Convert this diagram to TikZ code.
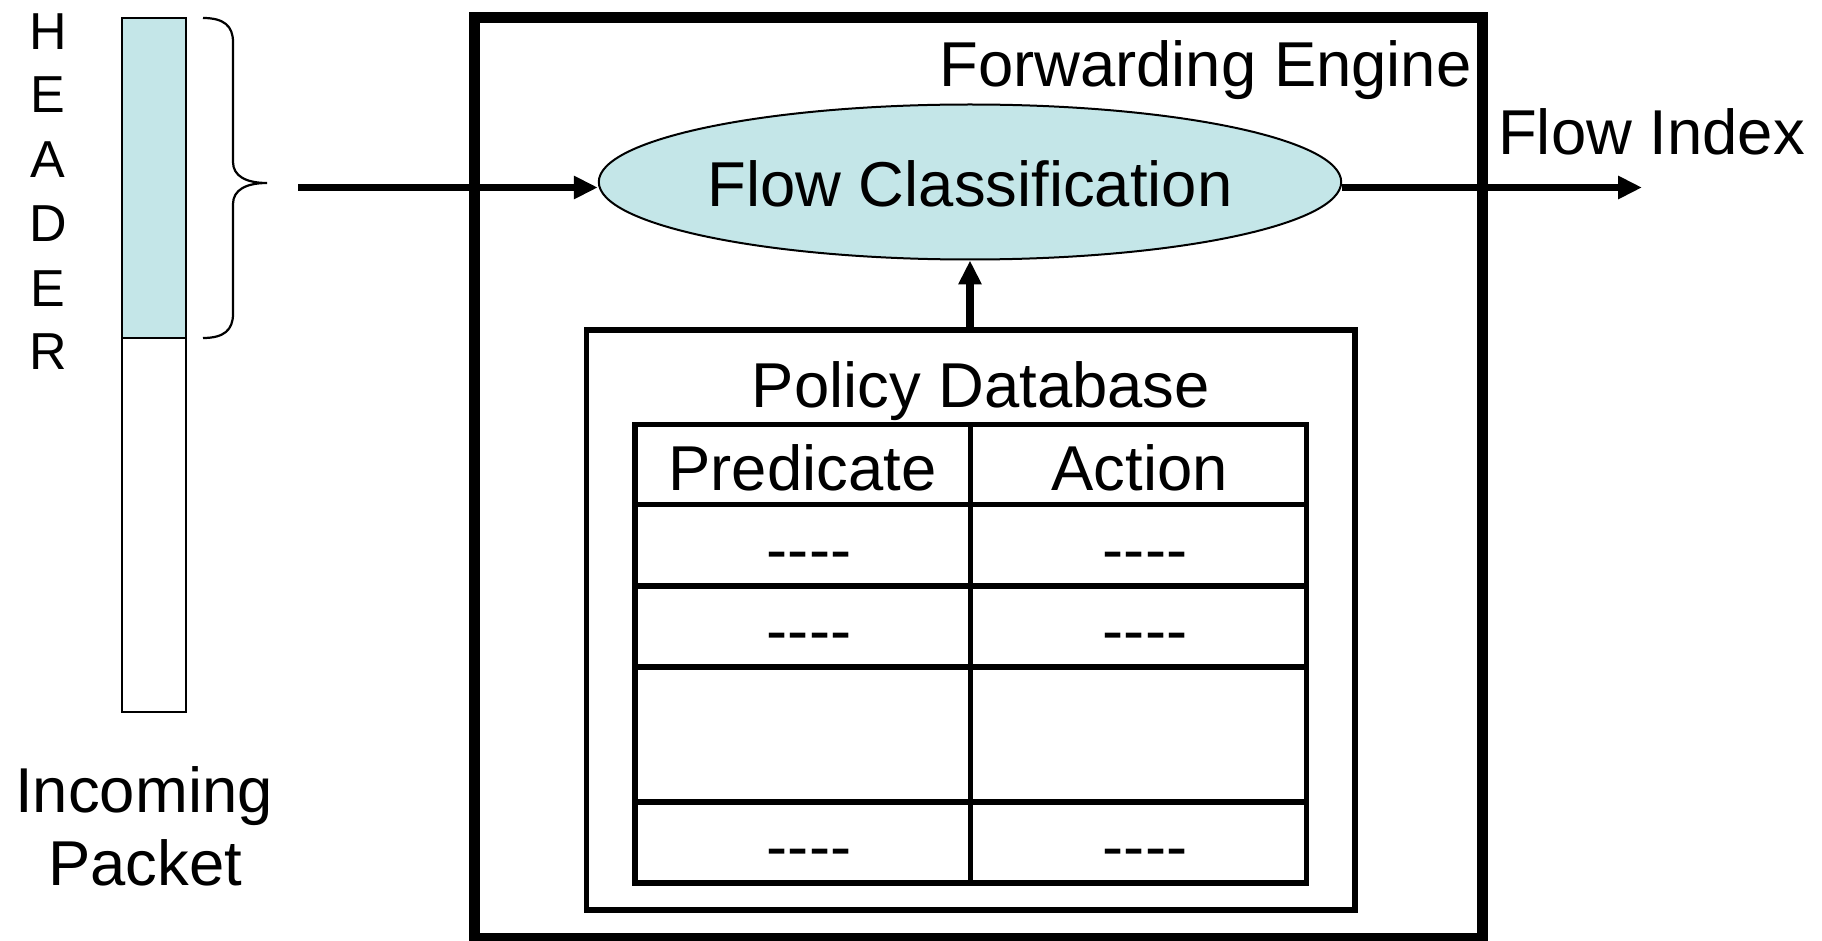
\documentclass[tikz,border=0pt]{standalone}
\usepackage{fontspec}
\setmainfont{Liberation Sans}
\usetikzlibrary{shapes.geometric,arrows.meta}
\definecolor{hdrfill}{HTML}{C4E6E8}
% four plain hyphens, kept apart so they do not turn into dashes
\newcommand{\dashrun}{-\kern0pt-\kern0pt-\kern0pt-}
\tikzset{
  txt/.style={font=\fontsize{31.7}{38}\selectfont, inner sep=0pt, anchor=base},
  hdrletter/.style={font=\fontsize{26}{31}\selectfont, inner sep=0pt, anchor=base},
  conn/.style={line width=3.75pt, -{Triangle[length=12pt,width=11pt]}},
  boxline/.style={draw, line width=2.75pt, inner sep=0pt, outer sep=0pt},
  gridline/.style={line width=2.75pt},
}
\begin{document}
\begin{tikzpicture}[x=0.5pt,y=-0.5pt]
\useasboundingbox (0,0) rectangle (1822,941);

% vertical HEADER label
\foreach \ch/\yb [count=\i] in {H/50,E/113,A/178,D/242,E/307,R/370}
  \node[hdrletter] (h\i) at (48,\yb) {\ch};

% incoming packet with its header part
\fill[hdrfill] (122,18) rectangle (186,338);
\node[draw, line width=1.2pt, inner sep=0pt, outer sep=0pt,
      minimum width=32pt, minimum height=347pt] (pkt) at (154,365) {};
\draw[line width=1.2pt] (122,338) -- (186,338);

% brace over the header
\draw[line width=1.1pt] (203,18) .. controls (224,18) and (233,26) .. (233,42)
  -- (233,162) .. controls (233,176) and (246,183) .. (267,183)
  .. controls (246,183) and (233,190) .. (233,204)
  -- (233,314) .. controls (233,330) and (224,338) .. (203,338);

\node[txt] (inc1) at (144,812) {Incoming};
\node[txt] (inc2) at (145,885) {Packet};

% forwarding engine
\node[draw, line width=5.5pt, inner sep=0pt, outer sep=0pt,
      minimum width=504pt, minimum height=460pt] (eng) at (978.5,478) {};
\node[txt] (englbl) at (1205.5,87) {Forwarding Engine};

% flow classification
\node[ellipse, draw, line width=1pt, fill=hdrfill, inner sep=0pt,
      minimum width=368pt, minimum height=77.5pt, txt, anchor=center,
      text height=25pt, text depth=0pt]
      (fc) at (970,182) {Flow Classification};

% policy database
\node[boxline, minimum width=384.25pt, minimum height=290pt] (pdb) at (970.75,620) {};
\node[txt] (pdblbl) at (981,408) {Policy Database};

% table
\node[boxline, minimum width=335.75pt, minimum height=229.25pt] (tbl) at (970.75,653.75) {};
\draw[gridline] (970.5,424.5) -- (970.5,883);
\foreach \yy in {504.5,586,667,802}
  \draw[gridline] (635,\yy) -- (1306.5,\yy);

\node[txt] (pred) at (802.5,490) {Predicate};
\node[txt] (act) at (1139.5,490) {Action};
\node[txt] (p1) at (809,571.5) {\dashrun};
\node[txt] (a1) at (1145,571.5) {\dashrun};
\node[txt] (p2) at (809,652) {\dashrun};
\node[txt] (a2) at (1145,652) {\dashrun};
\node[txt] (p3) at (809,868.5) {\dashrun};
\node[txt] (a3) at (1145,868.5) {\dashrun};

% connectors
\coordinate (inA) at (298,187.5);
\coordinate (outB) at (1642,187.5);
\draw[conn] (inA) -- (inA -| fc.west);
\draw[conn] (outB -| fc.east) -- (outB);
\draw[conn] (pdb.north -| fc.south) -- (fc.south);

\node[txt] (fidx) at (1651.5,155) {Flow Index};
\end{tikzpicture}
\end{document}
